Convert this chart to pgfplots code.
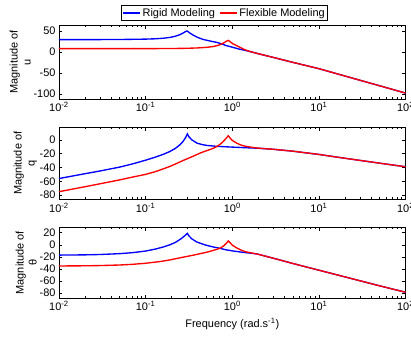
\documentclass[border=0pt]{standalone}
\usepackage{fontspec}
\setmainfont{Liberation Sans}
\usepackage{pgfplots}
\pgfplotsset{compat=1.18}

\pgfplotsset{
  every axis/.append style={
    scale only axis, width=346.6bp,
    xmin=0.01, xmax=100,
    xtick={0.01,0.1,1,10,100},
    xticklabels={10\textsuperscript{-2},10\textsuperscript{-1},10\textsuperscript{0},10\textsuperscript{1},10\textsuperscript{2}},
    minor xtick={0.02,0.03,0.04,0.05,0.06,0.07,0.08,0.09,0.2,0.3,0.4,0.5,0.6,0.7,0.8,0.9,2,3,4,5,6,7,8,9,20,30,40,50,60,70,80,90},
    tick align=inside,
    major tick length=3.5bp, minor tick length=2bp,
    axis line style={line width=0.8bp},
    tick style={black, line width=0.5bp},
    ylabel style={align=center, yshift=-4bp},
    anchor=north west,
  },
  every axis plot/.append style={line width=1.35bp},
}

\begin{document}
\begin{tikzpicture}[font=\fontsize{11}{13}\selectfont]

% ---------- panel 1: u ----------
\begin{semilogxaxis}[at={(59bp,-25.3bp)}, height=73.7bp,
  ymin=-112, ymax=63,
  ytick={-100,-50,0,50}, yticklabels={-100,-50,0,50},
  ylabel={Magnitude of\\u},
  legend columns=2,
  legend style={at={(0.4775,1)}, anchor=south, yshift=4.8bp, draw=black, line width=0.6bp,
    inner xsep=1bp, inner ysep=1bp,
    nodes={inner xsep=1.5bp, inner ysep=1.5bp},
    /tikz/every even column/.append style={column sep=3bp}},
]
\addplot[blue] coordinates {(0.01,29)(0.02,29)(0.03,29.1)(0.05,29.3)(0.07,29.7)(0.1,30.2)(0.13,31)(0.16,32.3)(0.19,34.2)(0.22,37)(0.25,41)(0.27,44.5)(0.285,47.5)(0.3,49.5)(0.31,47.5)(0.33,43.5)(0.36,38.8)(0.4,34)(0.46,29.5)(0.55,25.8)(0.66,22.5)(0.76,18.8)(0.83,15.5)(1,11)(1.2,6.5)(1.4,3.5)(1.6,0.7)(2,-4.5)(3,-13.5)(5,-25)(10,-40)(20,-57.5)(50,-80.5)(100,-98)};
\addlegendentry{Rigid Modeling}
\addplot[red] coordinates {(0.01,7.5)(0.1,7.6)(0.2,7.9)(0.3,8.4)(0.4,9.3)(0.5,10.6)(0.6,12.5)(0.66,14.5)(0.72,17)(0.76,19)(0.8,21.5)(0.85,25)(0.9,27.2)(0.95,23.5)(1.01,19.5)(1.1,15.5)(1.23,10.5)(1.4,5)(1.6,0.7)(2,-4.5)(3,-13.5)(5,-25)(10,-40)(20,-57.5)(50,-80.5)(100,-98)};
\addlegendentry{Flexible Modeling}
\end{semilogxaxis}

% ---------- panel 2: q ----------
\begin{semilogxaxis}[at={(59bp,-127.3bp)}, height=72bp,
  ymin=-86, ymax=18,
  ytick={-80,-60,-40,-20,0}, yticklabels={-80,-60,-40,-20,0},
  ylabel={Magnitude of\\q},
]
\addplot[blue] coordinates {(0.01,-56)(0.02,-49)(0.03,-45)(0.05,-39.5)(0.07,-35)(0.1,-29.5)(0.13,-25)(0.16,-21)(0.19,-17)(0.22,-12.5)(0.25,-7)(0.27,-2.5)(0.29,3.5)(0.303,8.5)(0.315,4.5)(0.34,0)(0.39,-4.8)(0.45,-7)(0.51,-8.2)(0.66,-9.5)(1,-10.6)(1.5,-11.6)(2,-12.3)(3,-13.8)(5,-16.5)(7,-18.8)(10,-21.2)(15,-24.5)(28.6,-29.5)(50,-33.8)(100,-39)};
\addplot[red] coordinates {(0.01,-75)(0.02,-67.8)(0.03,-63.5)(0.05,-58)(0.07,-54)(0.1,-50)(0.13,-46)(0.16,-42)(0.19,-38.6)(0.23,-34)(0.27,-30)(0.35,-24)(0.42,-19.5)(0.5,-16)(0.6,-12.5)(0.66,-9.8)(0.72,-6.8)(0.78,-3)(0.84,1.5)(0.9,5.8)(0.95,2)(1,-1)(1.13,-5)(1.25,-7.5)(1.41,-9.3)(1.7,-11)(2,-12.1)(3,-13.8)(5,-16.5)(7,-18.8)(10,-21.2)(15,-24.5)(28.6,-29.5)(50,-33.8)(100,-39)};
\end{semilogxaxis}

% ---------- panel 3: theta ----------
\begin{semilogxaxis}[at={(59bp,-227.3bp)}, height=70.7bp,
  ymin=-88, ymax=29,
  ytick={-80,-60,-40,-20,0,20}, yticklabels={-80,-60,-40,-20,0,20},
  ylabel={Magnitude of\\θ},
  xlabel={Frequency (rad.s\textsuperscript{-1})},
]
\addplot[blue] coordinates {(0.01,-17)(0.02,-16.6)(0.03,-16)(0.05,-14.6)(0.07,-13)(0.1,-10.3)(0.13,-7)(0.16,-3.5)(0.19,0)(0.22,4)(0.25,9)(0.275,13.5)(0.303,19)(0.315,15)(0.34,10)(0.39,4.6)(0.45,1.5)(0.51,-1)(0.6,-3.5)(0.72,-5.7)(0.83,-8)(1,-10)(1.3,-12.3)(1.8,-14.5)(2,-15.7)(3,-22.3)(5,-30.9)(10,-42)(20,-53.1)(50,-67.8)(100,-78.5)};
\addplot[red] coordinates {(0.01,-35)(0.02,-34.7)(0.03,-34.3)(0.05,-33.4)(0.07,-32.3)(0.1,-30.5)(0.15,-27.5)(0.19,-25)(0.27,-20.5)(0.35,-17.3)(0.42,-14.8)(0.5,-12.5)(0.6,-9.3)(0.66,-7.5)(0.72,-5.7)(0.8,-1.5)(0.86,3)(0.9,6.5)(0.95,3)(1,-0.5)(1.13,-5.3)(1.25,-8.5)(1.41,-11.3)(1.8,-14.5)(2,-15.7)(3,-22.3)(5,-30.9)(10,-42)(20,-53.1)(50,-67.8)(100,-78.5)};
\end{semilogxaxis}

\pgfresetboundingbox
\useasboundingbox (0,0) rectangle (411bp,-338bp);
\end{tikzpicture}
\end{document}
